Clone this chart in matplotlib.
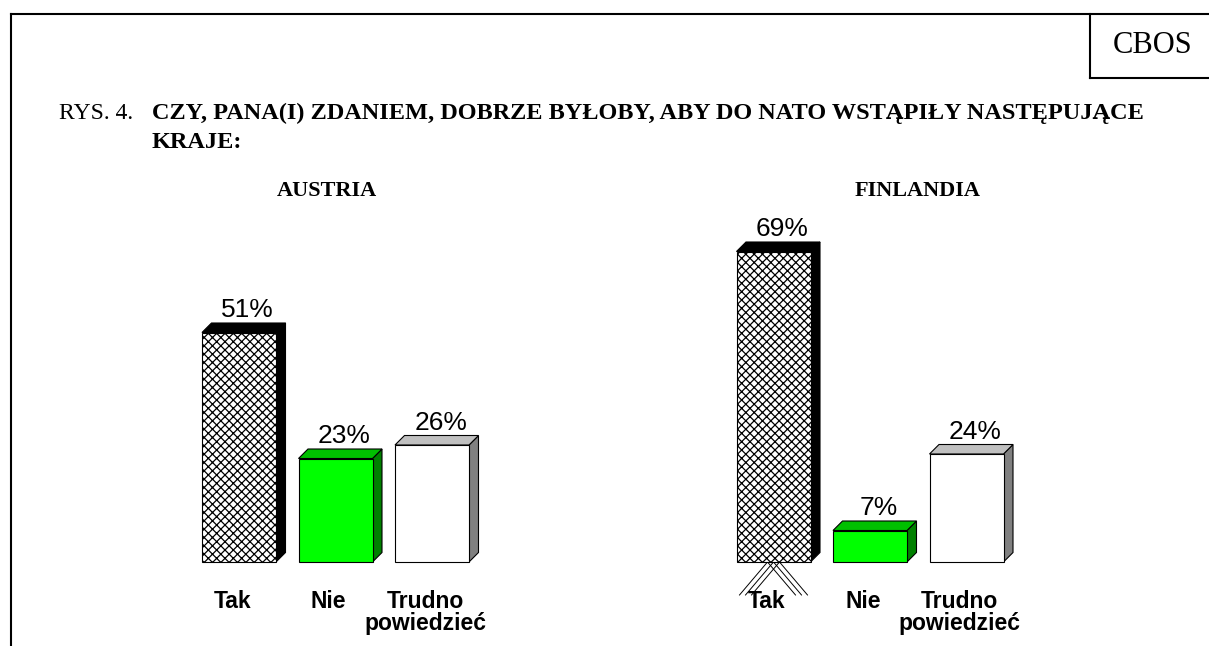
import matplotlib
matplotlib.use('Agg')
import matplotlib.pyplot as plt
from matplotlib.patches import Polygon
from matplotlib.lines import Line2D

# ---- data ----
categories = ['Tak', 'Nie', 'Trudno\npowiedzieć']
austria = [51, 23, 26]
finlandia = [69, 7, 24]
panel_titles = ['AUSTRIA', 'FINLANDIA']
title_prefix = 'RYS. 4.'
title_line1 = 'CZY, PANA(I) ZDANIEM, DOBRZE BYŁOBY, ABY DO NATO WSTĄPIŁY NASTĘPUJĄCE'
title_line2 = 'KRAJE:'
brand = 'CBOS'

# ---- layout / style ----
W, H = 1209, 646
fig = plt.figure(figsize=(W / 100, H / 100), dpi=100)
fig.patch.set_facecolor('white')


def fx(px):
    return px / W


def fy(py):
    return 1 - py / H


PX_PER_PCT = 4.5
PX_PER_UNIT = 96.5
YMAX = 80
BASE = 562
BAR_W = 74 / PX_PER_UNIT
DX = 9.5 / PX_PER_UNIT
DY = 9.5 / PX_PER_PCT

front_colors = ['white', '#00ff00', 'white']
top_colors = ['black', '#00c000', '#c0c0c0']
side_colors = ['black', '#008000', '#808080']
hatches = ['xxxx', None, None]

serif = ['Liberation Serif', 'DejaVu Serif']
sans = ['Liberation Sans', 'DejaVu Sans']

plt.rcParams['hatch.linewidth'] = 0.9


def panel(center0_px, values, title, title_x, hatch_spill=False):
    left_px = center0_px - PX_PER_UNIT / 2
    ax = fig.add_axes([fx(left_px), fy(BASE), 3 * PX_PER_UNIT / W, YMAX * PX_PER_PCT / H])
    ax.set_xlim(-0.5, 2.5)
    ax.set_ylim(0, YMAX)
    ax.axis('off')
    for i, v in enumerate(values):
        x0 = i - BAR_W / 2
        x1 = i + BAR_W / 2
        # side face
        ax.add_patch(Polygon([(x1, 0), (x1 + DX, DY), (x1 + DX, v + DY), (x1, v)],
                             closed=True, facecolor=side_colors[i], edgecolor='black',
                             linewidth=0.8, clip_on=False, zorder=2))
        # top face
        ax.add_patch(Polygon([(x0, v), (x0 + DX, v + DY), (x1 + DX, v + DY), (x1, v)],
                             closed=True, facecolor=top_colors[i], edgecolor='black',
                             linewidth=0.8, clip_on=False, zorder=2))
        # front face
        ax.bar(i, v, width=BAR_W, color=front_colors[i], edgecolor='black',
               linewidth=0.8, hatch=hatches[i], zorder=3, clip_on=False)
        ax.text(i + DX / 2 + 0.04, v + DY + 1.3, f'{v}%', ha='center', va='baseline',
                fontsize=19, family=sans, clip_on=False)
        ax.text(i - 0.07, -6.3, categories[i], ha='center', va='top',
                fontsize=16.5, fontweight='bold', family=sans,
                linespacing=0.92, clip_on=False)
    if hatch_spill:
        # stray hatch strokes drawn below the first bar in the original
        sx = 28 / PX_PER_UNIT
        sy = -33 / PX_PER_PCT
        for k in (-1, 0, 1):
            off = k * 6 / PX_PER_UNIT
            ax.plot([off, off - sx], [0, sy], color='black', lw=0.7, clip_on=False, zorder=1)
            ax.plot([off, off + sx], [0, sy], color='black', lw=0.7, clip_on=False, zorder=1)
    fig.text(fx(title_x), fy(196), title, ha='center', va='baseline',
             fontsize=16, fontweight='bold', family=serif)
    return ax


panel(239, austria, panel_titles[0], 327)
panel(773.5, finlandia, panel_titles[1], 918, hatch_spill=True)

# title
fig.text(fx(59), fy(119), title_prefix, ha='left', va='baseline', fontsize=17, family=serif)
fig.text(fx(152), fy(119), title_line1, ha='left', va='baseline', fontsize=17.5,
         fontweight='bold', family=serif)
fig.text(fx(152), fy(148), title_line2, ha='left', va='baseline', fontsize=17.5,
         fontweight='bold', family=serif)

# frame lines
lw = 1.5
fig.add_artist(Line2D([fx(11), fx(W)], [fy(14), fy(14)], color='black', lw=lw))
fig.add_artist(Line2D([fx(11), fx(11)], [fy(14), fy(H)], color='black', lw=lw))
fig.add_artist(Line2D([fx(1090), fx(1090)], [fy(14), fy(78)], color='black', lw=lw))
fig.add_artist(Line2D([fx(1090), fx(W)], [fy(78), fy(78)], color='black', lw=lw))
fig.text(fx(1153), fy(53), brand, ha='center', va='baseline', fontsize=22, family=serif)

fig.savefig('out.png', dpi=100)
